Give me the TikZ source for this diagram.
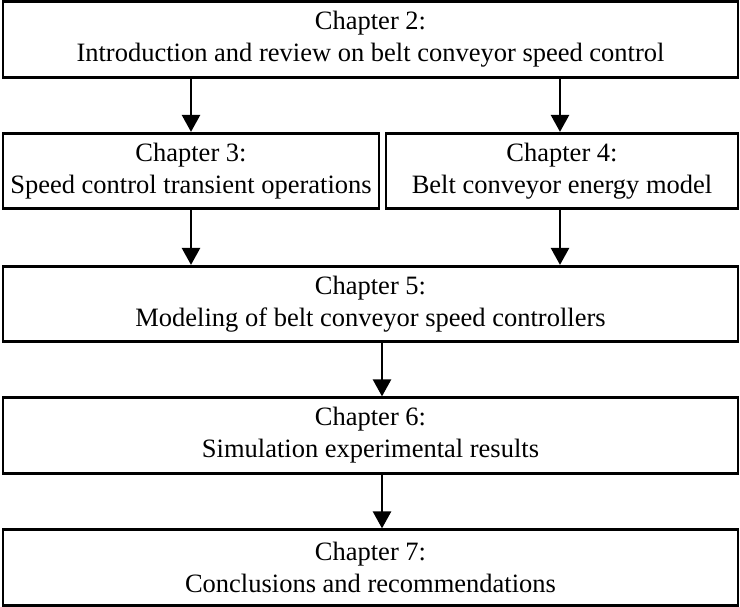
\documentclass[tikz,border=0pt]{standalone}
\usepackage{fontspec}
\setmainfont{Liberation Serif}
\usetikzlibrary{arrows.meta}
\usetikzlibrary{positioning}
\tikzset{
    % Plain outlined box holding one chapter
    chapter box/.style={
        draw, line width=2.7pt, align=center, inner sep=0pt,
        minimum height=75.5pt, font=\fontsize{26.5}{32}\selectfont},
%
    % Heavy arrow with a solid triangular head
    flow/.style={line width=2.6pt, -{Triangle[length=17pt, width=18pt]}}}

\begin{document}
\begin{tikzpicture}[x=1pt, y=1pt]
\useasboundingbox (0,0) rectangle (740,-607);

\node [chapter box, minimum width=735pt]
    (ch2) at (370.5,-39.5)
    {Chapter 2:\\Introduction and review on belt conveyor speed control};

\node [chapter box, minimum width=376pt]
    (ch3) at (191,-171) {Chapter 3:\\Speed control transient operations};
\node [chapter box, minimum width=352pt]
    (ch4) at (562,-171) {Chapter 4:\\Belt conveyor energy model};

\draw [flow] (ch3.north |- ch2.south) -- (ch3.north);
\draw [flow] ([xshift=-2pt]ch4.north |- ch2.south) -- ([xshift=-2pt]ch4.north);

\node [chapter box, minimum width=735pt]
    (ch5) at (370.5,-304)
    {Chapter 5:\\Modeling of belt conveyor speed controllers};
\draw [flow] (ch3) -- (ch3 |- ch5.north);
\draw [flow] ([xshift=-2pt]ch4.south) -- ([xshift=-2pt]ch4.south |- ch5.north);

\node [chapter box, minimum width=735pt]
    (ch6) at (370.5,-435.5) {Chapter 6:\\Simulation experimental results};
\draw [flow] ([xshift=11.5pt]ch5.south) -- ([xshift=11.5pt]ch6.north);

\node [chapter box, minimum width=735pt]
    (ch7) at (370.5,-567.5) {Chapter 7:\\Conclusions and recommendations};
\draw [flow] ([xshift=11.5pt]ch6.south) -- ([xshift=11.5pt]ch7.north);

\end{tikzpicture}
\end{document}
